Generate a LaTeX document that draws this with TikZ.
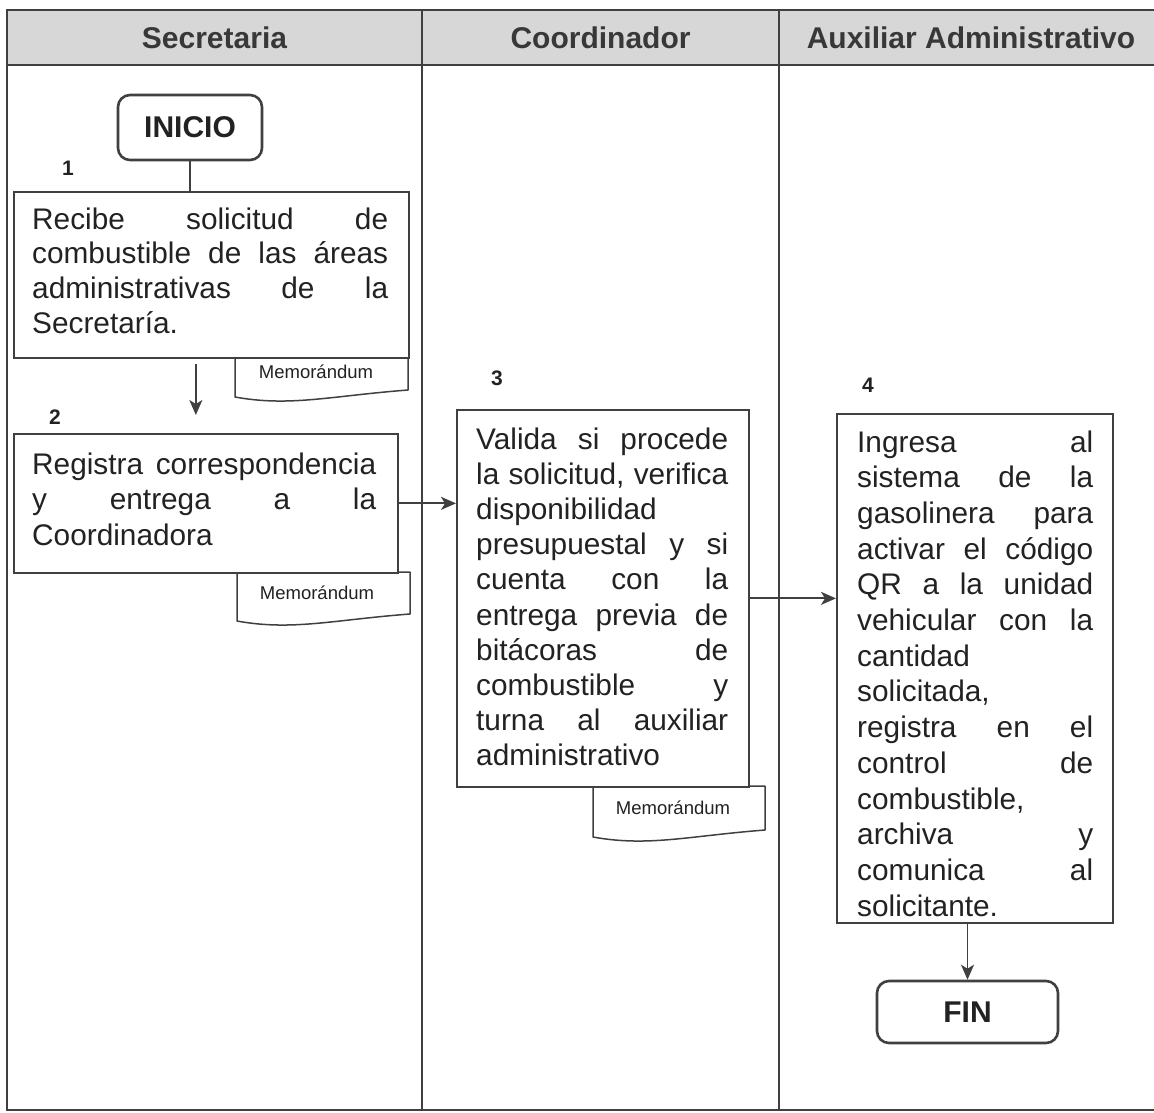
\documentclass[tikz,border=0pt]{standalone}
\usepackage{fontspec}
\setmainfont{Liberation Sans}
\usetikzlibrary{arrows.meta,calc}

\definecolor{ink}{HTML}{222222}
\definecolor{rule}{HTML}{404040}
\definecolor{headfill}{HTML}{D7D7D7}
\definecolor{headink}{HTML}{383838}

% a line of justified text stretched to the column width \jw
% (the font's own stretchable interword space is restored first)
\newcommand\jw{300pt}
\newcommand\jl[1]{{\spaceskip=0pt\xspaceskip=0pt\makebox[\jw][s]{#1}}}

\begin{document}
\begin{tikzpicture}[x=1pt,y=-1pt,
  lane/.style={draw=rule,line width=1.8pt},
  stepbox/.style={draw=rule,line width=1.7pt,rectangle,inner sep=0pt,anchor=north west},
  steptext/.style={inner sep=0pt,anchor=base west,align=left,text=ink},
  termbox/.style={draw=rule,line width=2.6pt,rectangle,rounded corners=12pt,inner sep=0pt,
    font=\fontsize{30}{36}\selectfont\bfseries,text=ink},
  headtext/.style={font=\fontsize{30}{36}\selectfont\bfseries,text=headink,inner sep=0pt},
  num/.style={font=\fontsize{21}{24}\selectfont\bfseries,text=ink,inner sep=0pt},
  doctext/.style={font=\fontsize{18.5}{22}\selectfont,text=ink,inner sep=0pt},
  docline/.style={draw=rule,line width=1.5pt,line join=round},
  flow/.style={draw=rule,line width=1.8pt,-{Stealth[length=15pt,width=13pt,inset=4pt]}},
  plain/.style={draw=rule,line width=1.8pt}
]
\useasboundingbox (0,0) rectangle (1154,1112);
\fill[white] (0,0) rectangle (1154,1112);

% ---- swimlane table ----
\fill[headfill] (7,10) rectangle (1154,65);
\draw[lane] (1154,10) -- (7,10) -- (7,1110) -- (1154,1110);
\draw[lane] (7,65) -- (1154,65);
\draw[lane] (422,10) -- (422,1110);
\draw[lane] (779,10) -- (779,1110);

\node[headtext] (h1) at (214.5,38) {Secretaria};
\node[headtext] (h2) at (600.5,38) {Coordinador};
\node[headtext] (h3) at (971,38) {Auxiliar Administrativo};

% ---- terminals ----
\node[termbox,minimum width=144pt,minimum height=65pt] (inicio) at (190,127.5) {INICIO};
\node[termbox,minimum width=181pt,minimum height=62pt] (fin) at (967.5,1012) {FIN};

% ---- step numbers ----
\node[num] (n1) at (68,168) {1};
\node[num] (n2) at (55,417) {2};
\node[num] (n3) at (497,378) {3};
\node[num] (n4) at (868,385) {4};

% ---- process boxes ----
\node[stepbox,minimum width=395pt,minimum height=166pt] (b1) at (13,191) {};
\node[stepbox,minimum width=384pt,minimum height=139pt] (b2) at (13,433) {};
\node[stepbox,minimum width=292pt,minimum height=377pt] (b3) at (456,409) {};
\node[stepbox,minimum width=276pt,minimum height=509pt] (b4) at (836,413) {};

% ---- documents attached to the boxes ----
\draw[docline] (235,357) -- (235,397) .. controls (290,407) and (330,396) .. (408,390) -- (408,357);
\draw[docline] (237,572) -- (237,621) .. controls (292,631) and (332,620) .. (410,614) -- (410,572) -- (397,572);
\draw[docline] (593,786) -- (593,837) .. controls (648,847) and (688,836) .. (765,830) -- (765,786) -- (748,786);
\node[doctext] (d1) at (316,372) {Memorándum};
\node[doctext] (d2) at (317,593) {Memorándum};
\node[doctext] (d3) at (673,808) {Memorándum};

% ---- box texts ----
\renewcommand\jw{356pt}
\node[steptext,text width=356pt,font=\fontsize{29.8}{34.8}\selectfont] (t1) at (32,229) {%
\jl{Recibe solicitud de}\\
\jl{combustible de las áreas}\\
\jl{administrativas de la}\\
Secretaría.};

\renewcommand\jw{344pt}
\node[steptext,text width=344pt,font=\fontsize{29.8}{35.5}\selectfont] (t2) at (32,474) {%
\jl{Registra correspondencia}\\
\jl{y entrega a la}\\
Coordinadora};

\renewcommand\jw{252pt}
\node[steptext,text width=252pt,font=\fontsize{29.8}{35.2}\selectfont] (t3) at (476,449) {%
\jl{Valida si procede}\\
\jl{la solicitud, verifica}\\
disponibilidad\\
\jl{presupuestal y si}\\
\jl{cuenta con la}\\
\jl{entrega previa de}\\
\jl{bitácoras de}\\
\jl{combustible y}\\
\jl{turna al auxiliar}\\
administrativo};

\renewcommand\jw{236pt}
\node[steptext,text width=236pt,font=\fontsize{29.8}{35.7}\selectfont] (t4) at (857,452) {%
\jl{Ingresa al}\\
\jl{sistema de la}\\
\jl{gasolinera para}\\
\jl{activar el código}\\
\jl{QR a la unidad}\\
\jl{vehicular con la}\\
cantidad\\
solicitada,\\
\jl{registra en el}\\
\jl{control de}\\
combustible,\\
\jl{archiva y}\\
\jl{comunica al}\\
solicitante.};

% ---- connectors ----
\draw[plain] (inicio.south) -- (inicio.south |- b1.north);
\draw[flow] ([xshift=-15.5pt,yshift=-5pt]b1.south) -- ([xshift=-10pt,yshift=18pt]b2.north);
\draw[flow] (b2.east) -- (b2.east -| b3.west);
\draw[flow] (b3.east) -- (b3.east -| b4.west);
\draw[flow] (b4.south -| fin.north) -- (fin.north);
\end{tikzpicture}
\end{document}
